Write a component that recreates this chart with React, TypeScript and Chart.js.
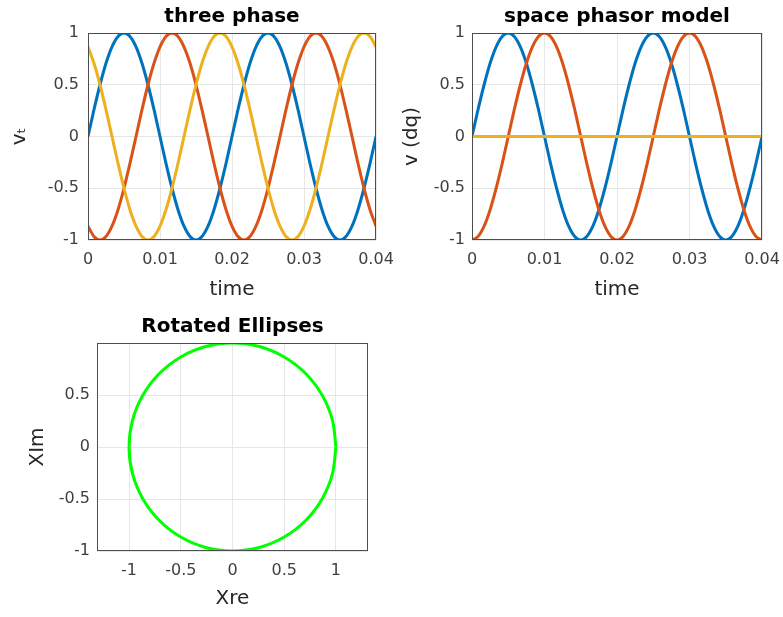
import React, { useEffect, useRef } from "react";
import { Chart, registerables } from "chart.js";

Chart.register(...registerables);

// ---------- data ----------
const time = [
  0, 0.00083, 0.00167, 0.0025, 0.00333, 0.00417, 0.005, 0.00583, 0.00667, 0.0075, 0.00833, 0.00917,
  0.01, 0.01083, 0.01167, 0.0125, 0.01333, 0.01417, 0.015, 0.01583, 0.01667, 0.0175, 0.01833, 0.01917,
  0.02, 0.02083, 0.02167, 0.0225, 0.02333, 0.02417, 0.025, 0.02583, 0.02667, 0.0275, 0.02833, 0.02917,
  0.03, 0.03083, 0.03167, 0.0325, 0.03333, 0.03417, 0.035, 0.03583, 0.03667, 0.0375, 0.03833, 0.03917,
  0.04,
];

const phaseA = [
  0, 0.259, 0.5, 0.707, 0.866, 0.966, 1, 0.966, 0.866, 0.707, 0.5, 0.259,
  0, -0.259, -0.5, -0.707, -0.866, -0.966, -1, -0.966, -0.866, -0.707, -0.5, -0.259,
  0, 0.259, 0.5, 0.707, 0.866, 0.966, 1, 0.966, 0.866, 0.707, 0.5, 0.259,
  0, -0.259, -0.5, -0.707, -0.866, -0.966, -1, -0.966, -0.866, -0.707, -0.5, -0.259,
  0,
];

const phaseB = [
  -0.866, -0.966, -1, -0.966, -0.866, -0.707, -0.5, -0.259, 0, 0.259, 0.5, 0.707,
  0.866, 0.966, 1, 0.966, 0.866, 0.707, 0.5, 0.259, 0, -0.259, -0.5, -0.707,
  -0.866, -0.966, -1, -0.966, -0.866, -0.707, -0.5, -0.259, 0, 0.259, 0.5, 0.707,
  0.866, 0.966, 1, 0.966, 0.866, 0.707, 0.5, 0.259, 0, -0.259, -0.5, -0.707,
  -0.866,
];

const phaseC = [
  0.866, 0.707, 0.5, 0.259, 0, -0.259, -0.5, -0.707, -0.866, -0.966, -1, -0.966,
  -0.866, -0.707, -0.5, -0.259, 0, 0.259, 0.5, 0.707, 0.866, 0.966, 1, 0.966,
  0.866, 0.707, 0.5, 0.259, 0, -0.259, -0.5, -0.707, -0.866, -0.966, -1, -0.966,
  -0.866, -0.707, -0.5, -0.259, 0, 0.259, 0.5, 0.707, 0.866, 0.966, 1, 0.966,
  0.866,
];

const dqBlue = [
  0, 0.259, 0.5, 0.707, 0.866, 0.966, 1, 0.966, 0.866, 0.707, 0.5, 0.259,
  0, -0.259, -0.5, -0.707, -0.866, -0.966, -1, -0.966, -0.866, -0.707, -0.5, -0.259,
  0, 0.259, 0.5, 0.707, 0.866, 0.966, 1, 0.966, 0.866, 0.707, 0.5, 0.259,
  0, -0.259, -0.5, -0.707, -0.866, -0.966, -1, -0.966, -0.866, -0.707, -0.5, -0.259,
  0,
];

const dqRed = [
  -1, -0.966, -0.866, -0.707, -0.5, -0.259, 0, 0.259, 0.5, 0.707, 0.866, 0.966,
  1, 0.966, 0.866, 0.707, 0.5, 0.259, 0, -0.259, -0.5, -0.707, -0.866, -0.966,
  -1, -0.966, -0.866, -0.707, -0.5, -0.259, 0, 0.259, 0.5, 0.707, 0.866, 0.966,
  1, 0.966, 0.866, 0.707, 0.5, 0.259, 0, -0.259, -0.5, -0.707, -0.866, -0.966,
  -1,
];

const dqYellow = [
  0, 0, 0, 0, 0, 0, 0, 0, 0, 0, 0, 0,
  0, 0, 0, 0, 0, 0, 0, 0, 0, 0, 0, 0,
  0, 0, 0, 0, 0, 0, 0, 0, 0, 0, 0, 0,
  0, 0, 0, 0, 0, 0, 0, 0, 0, 0, 0, 0,
  0,
];

const circleRe = [
  1, 0.966, 0.866, 0.707, 0.5, 0.259, 0, -0.259, -0.5, -0.707, -0.866, -0.966,
  -1, -0.966, -0.866, -0.707, -0.5, -0.259, 0, 0.259, 0.5, 0.707, 0.866, 0.966, 1,
];
const circleIm = [
  0, 0.259, 0.5, 0.707, 0.866, 0.966, 1, 0.966, 0.866, 0.707, 0.5, 0.259,
  0, -0.259, -0.5, -0.707, -0.866, -0.966, -1, -0.966, -0.866, -0.707, -0.5, -0.259, 0,
];

const timeTicks = [0, 0.01, 0.02, 0.03, 0.04];
const timeTickLabels = ["0", "0.01", "0.02", "0.03", "0.04"];
const vTicks = [-1, -0.5, 0, 0.5, 1];
const vTickLabels = ["-1", "-0.5", "0", "0.5", "1"];
const reTicks = [-1, -0.5, 0, 0.5, 1];
const reTickLabels = ["-1", "-0.5", "0", "0.5", "1"];
const imTicks = [-1, -0.5, 0, 0.5];
const imTickLabels = ["-1", "-0.5", "0", "0.5"];

// ---------- styling ----------
const FONT = '"DejaVu Sans", "Liberation Sans", Arial, sans-serif';
const BLUE = "#0072BD";
const RED = "#D95319";
const YELLOW = "#EDB120";
const GREEN = "#00FF00";
const GRID = "#e6e6e6";
const TICK_COLOR = "#404040";
const LABEL_COLOR = "#262626";
const LW = 3;

const boxPlugin = {
  id: "matlabBox",
  afterDatasetsDraw(chart: any) {
    const { ctx, chartArea } = chart;
    const l = Math.round(chartArea.left) + 0.5;
    const t = Math.round(chartArea.top) + 0.5;
    const r = Math.round(chartArea.right) - 0.5;
    const b = Math.round(chartArea.bottom) - 0.5;
    ctx.save();
    ctx.strokeStyle = "#4d4d4d";
    ctx.lineWidth = 1;
    ctx.strokeRect(l, t, r - l, b - t);
    ctx.restore();
  },
};

function pts(xs: number[], ys: number[]) {
  return xs.map((x, i) => ({ x, y: ys[i] }));
}

function scale(o: {
  min: number;
  max: number;
  ticks: number[];
  labels: string[];
  title: string;
  size: number;
  horizontal: boolean;
  titlePad: any;
  tickPad: number;
}) {
  return {
    type: "linear",
    min: o.min,
    max: o.max,
    afterBuildTicks: (s: any) => {
      s.ticks = o.ticks.map((v) => ({ value: v }));
    },
    afterFit: (s: any) => {
      if (o.horizontal) s.height = o.size;
      else s.width = o.size;
      s.paddingLeft = 0;
      s.paddingRight = 0;
      s.paddingTop = 0;
      s.paddingBottom = 0;
    },
    ticks: {
      autoSkip: false,
      maxRotation: 0,
      padding: o.tickPad,
      color: TICK_COLOR,
      font: { family: FONT, size: 16 },
      callback: (_v: any, i: number) => o.labels[i],
    },
    grid: { color: GRID, lineWidth: 1, drawTicks: false },
    border: { display: false },
    title: {
      display: true,
      text: o.title,
      color: LABEL_COLOR,
      font: { family: FONT, size: 20, lineHeight: "24px" },
      padding: o.titlePad,
    },
  };
}

function titleOpts(text: string) {
  return {
    display: true,
    fullSize: false,
    text,
    color: "#000",
    font: { family: FONT, size: 20, weight: "bold", lineHeight: "24px" },
    padding: { top: 5, bottom: 4 },
  };
}

function lineDs(data: { x: number; y: number }[], color: string, order: number) {
  return {
    data,
    borderColor: color,
    backgroundColor: color,
    borderWidth: LW,
    pointRadius: 0,
    fill: false,
    cubicInterpolationMode: "monotone",
    order,
  };
}

const config1: any = {
  type: "line",
  data: {
    datasets: [
      lineDs(pts(time, phaseA), BLUE, 3),
      lineDs(pts(time, phaseB), RED, 2),
      lineDs(pts(time, phaseC), YELLOW, 1),
    ],
  },
  options: {
    animation: false,
    responsive: false,
    events: [],
    layout: { padding: { left: 0, right: 24, top: 0, bottom: 0 } },
    plugins: { legend: { display: false }, tooltip: { enabled: false }, title: titleOpts("three phase") },
    scales: {
      x: scale({ min: 0, max: 0.04, ticks: timeTicks, labels: timeTickLabels, title: "time", size: 70, horizontal: true, titlePad: { top: 0, bottom: 8 }, tickPad: 10 }),
      y: scale({ min: -1, max: 1, ticks: vTicks, labels: vTickLabels, title: "vₜ", size: 88, horizontal: false, titlePad: { top: 8, bottom: 0 }, tickPad: 9 }),
    },
  },
  plugins: [boxPlugin],
};

const config2: any = {
  type: "line",
  data: {
    datasets: [
      lineDs(pts(time, dqBlue), BLUE, 3),
      lineDs(pts(time, dqRed), RED, 2),
      lineDs(pts(time, dqYellow), YELLOW, 1),
    ],
  },
  options: {
    animation: false,
    responsive: false,
    events: [],
    layout: { padding: { left: 0, right: 21, top: 0, bottom: 0 } },
    plugins: { legend: { display: false }, tooltip: { enabled: false }, title: titleOpts("space phasor model") },
    scales: {
      x: scale({ min: 0, max: 0.04, ticks: timeTicks, labels: timeTickLabels, title: "time", size: 70, horizontal: true, titlePad: { top: 0, bottom: 8 }, tickPad: 10 }),
      y: scale({ min: -1, max: 1, ticks: vTicks, labels: vTickLabels, title: "v (dq)", size: 72, horizontal: false, titlePad: { top: 0, bottom: 0 }, tickPad: 7 }),
    },
  },
  plugins: [boxPlugin],
};

const config3: any = {
  type: "scatter",
  data: {
    datasets: [
      {
        data: pts(circleRe, circleIm),
        borderColor: GREEN,
        backgroundColor: GREEN,
        borderWidth: LW,
        pointRadius: 0,
        showLine: true,
        fill: false,
        tension: 0.33,
      },
    ],
  },
  options: {
    animation: false,
    responsive: false,
    events: [],
    layout: { padding: { left: 0, right: 32, top: 0, bottom: 0 } },
    plugins: { legend: { display: false }, tooltip: { enabled: false }, title: titleOpts("Rotated Ellipses") },
    scales: {
      x: scale({ min: -1.31, max: 1.31, ticks: reTicks, labels: reTickLabels, title: "Xre", size: 66, horizontal: true, titlePad: { top: 0, bottom: 6 }, tickPad: 10 }),
      y: scale({ min: -1, max: 1, ticks: imTicks, labels: imTickLabels, title: "XIm", size: 97, horizontal: false, titlePad: { top: 26, bottom: 0 }, tickPad: 7 }),
    },
  },
  plugins: [boxPlugin],
};

function ChartBox(props: { left: number; top: number; width: number; height: number; config: any }) {
  const ref = useRef<HTMLCanvasElement | null>(null);
  useEffect(() => {
    if (!ref.current) return;
    const chart = new Chart(ref.current, props.config);
    return () => chart.destroy();
  }, []);
  return (
    <canvas
      ref={ref}
      width={props.width}
      height={props.height}
      style={{ position: "absolute", left: props.left, top: props.top, width: props.width, height: props.height }}
    />
  );
}

export default function App() {
  return (
    <div style={{ position: "absolute", left: 0, top: 0, width: 783, height: 617, background: "#fff" }}>
      <ChartBox left={0} top={0} width={400} height={310} config={config1} />
      <ChartBox left={400} top={0} width={383} height={310} config={config2} />
      <ChartBox left={0} top={310} width={400} height={307} config={config3} />
    </div>
  );
}
